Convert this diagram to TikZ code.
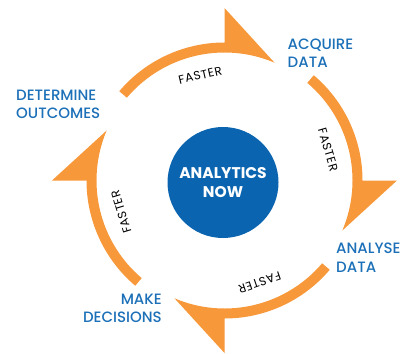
\documentclass[tikz,border=0pt]{standalone}
\usepackage{fontspec}
\setmainfont{Poppins}
\newfontfamily\stagefont{Poppins Medium}
\usetikzlibrary{positioning}

\definecolor{ringorange}{HTML}{F7993B}
\definecolor{hubblue}{HTML}{0A64AF}
\definecolor{stepblue}{HTML}{1C70B8}

\tikzstyle{ringarrow} = [fill=ringorange, draw=none]
\tikzstyle{hubnode} = [circle, minimum size=111pt, inner sep=0pt, fill=hubblue, text=white, align=center, font=\fontsize{15.5}{19}\selectfont\bfseries]
\tikzstyle{stagelabel} = [inner sep=0pt, text=stepblue, font=\stagefont\fontsize{15}{18.5}\selectfont]
\tikzstyle{speedlabel} = [inner sep=0pt, text=black, font=\fontsize{12}{14}\selectfont\addfontfeatures{LetterSpace=5}]

\begin{document}
\begin{tikzpicture}[x=1pt, y=1pt]
        \useasboundingbox (-224.5,-172.5) rectangle (181.5,180.5);
        \coordinate (Hub Centre) at (0,0);

        % ring of four arrows, clockwise
        \fill [ringarrow] (139.7:138pt) arc[start angle=139.7, end angle=90, radius=138pt] -- (90:172.5pt) -- (67:128pt) arc[start angle=67, end angle=139.7, radius=128pt] -- cycle;
        \fill [ringarrow] (49.7:138pt) arc[start angle=49.7, end angle=0, radius=138pt] -- (0:172.5pt) -- (-23:128pt) arc[start angle=-23, end angle=49.7, radius=128pt] -- cycle;
        \fill [ringarrow] (-40.3:138pt) arc[start angle=-40.3, end angle=-90, radius=138pt] -- (-90:172.5pt) -- (-113:128pt) arc[start angle=-113, end angle=-40.3, radius=128pt] -- cycle;
        \fill [ringarrow] (-130.3:138pt) arc[start angle=-130.3, end angle=-180, radius=138pt] -- (-180:172.5pt) -- (-203:128pt) arc[start angle=-203, end angle=-130.3, radius=128pt] -- cycle;

        \node (Analytics Now) [hubnode] at (-1.5,-2) {ANALYTICS\\NOW};

        \node (Acquire Data) [stagelabel, anchor=west, align=left] at (63,127.5) {ACQUIRE\\DATA};
        \node (Analyse Data) [stagelabel, anchor=west, align=left] at (111.5,-77) {ANALYSE\\DATA};
        \node (Make Decisions) [stagelabel, anchor=east, align=right] at (-62.5,-128) {MAKE\\DECISIONS};
        \node (Determine Outcomes) [stagelabel, anchor=west, align=left] at (-208.5,76) {DETERMINE\\OUTCOMES};

        \node (Faster Top) [speedlabel, rotate=13] at (103:108pt) {FASTER};
        \node (Faster Right) [speedlabel, rotate=-73.5] at (16.5:108pt) {FASTER};
        \node (Faster Bottom) [speedlabel, rotate=-161] at (-71:108pt) {FASTER};
        \node (Faster Left) [speedlabel, rotate=107] at (197:108pt) {FASTER};
    \end{tikzpicture}
\end{document}
